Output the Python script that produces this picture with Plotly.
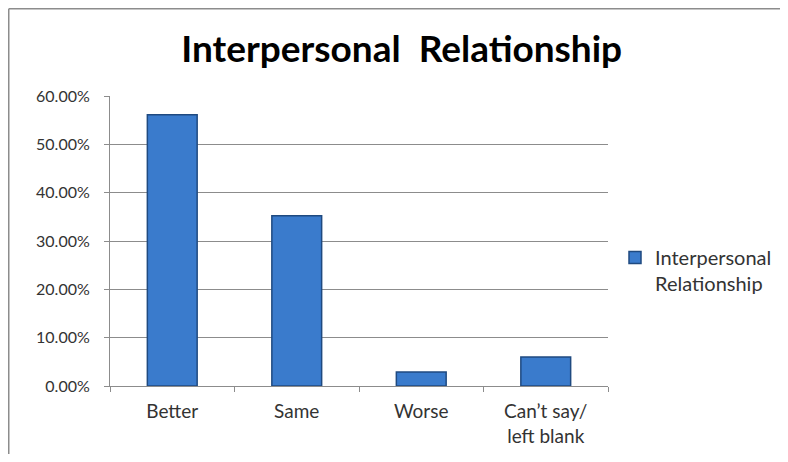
import plotly.graph_objects as go

categories = ["Better", "Same", "Worse", "Can\u2019t say/<br>left blank"]
values = [0.561, 0.352, 0.029, 0.060]
series_name = "Interpersonal<br>Relationship"
title_text = "Interpersonal  Relationship"

# page body has an 8px margin, so figure is offset by 8px; keep it inside the window
W, H = 772, 446
L, R, T, B = 102, 172, 88, 68
pw = W - L - R
ph = H - T - B

fig = go.Figure()
fig.add_trace(go.Bar(
    x=categories, y=values, name=series_name, width=0.4,
    marker=dict(color="#3a7bcc", line=dict(color="#1f4a80", width=1.5)),
    showlegend=True,
))

fig.update_layout(
    width=W, height=H,
    margin=dict(l=L, r=R, t=T, b=B, autoexpand=False),
    paper_bgcolor="white", plot_bgcolor="white",
    font=dict(family="Lato, Open Sans, sans-serif", size=16, color="#333333"),
    title=dict(text="<b>" + title_text + "</b>", x=0.51, xanchor="center",
               y=1 - 41 / H, yanchor="middle",
               font=dict(family="Lato, Open Sans, sans-serif", size=37, color="black")),
    xaxis=dict(showline=True, linecolor="#8c8c8c", linewidth=1, automargin=False,
               ticks="outside", tickson="boundaries", ticklen=5, tickcolor="#8c8c8c",
               showgrid=False, tickfont=dict(size=19), ticklabelstandoff=8),
    yaxis=dict(range=[0, 0.6], dtick=0.1, tickformat=".2%", automargin=False,
               showline=True, linecolor="#8c8c8c", linewidth=1,
               ticks="outside", ticklen=5, tickcolor="#8c8c8c",
               showgrid=True, gridcolor="#8c8c8c", gridwidth=1,
               zeroline=False, tickfont=dict(size=16), ticklabelstandoff=11),
    legend=dict(x=(607 - L) / pw, y=1 - (230 - T) / ph, xanchor="left", yanchor="top",
                font=dict(size=20, color="#333333"), itemwidth=30, valign="top",
                bgcolor="rgba(0,0,0,0)"),
    bargap=0.6,
)

# outer frame of the chart area: only left and top edges are visible
fx0 = (0.75 - L) / pw
fy1 = 1 - (0.75 - T) / ph
fig.add_shape(type="line", xref="paper", yref="paper",
              x0=fx0, x1=fx0, y0=1 - (H + 5 - T) / ph, y1=fy1,
              line=dict(color="#8c8c8c", width=1.5))
fig.add_shape(type="line", xref="paper", yref="paper",
              x0=fx0, x1=(W + 5 - L) / pw, y0=fy1, y1=fy1,
              line=dict(color="#8c8c8c", width=1.5))

fig.write_html("out.html")
